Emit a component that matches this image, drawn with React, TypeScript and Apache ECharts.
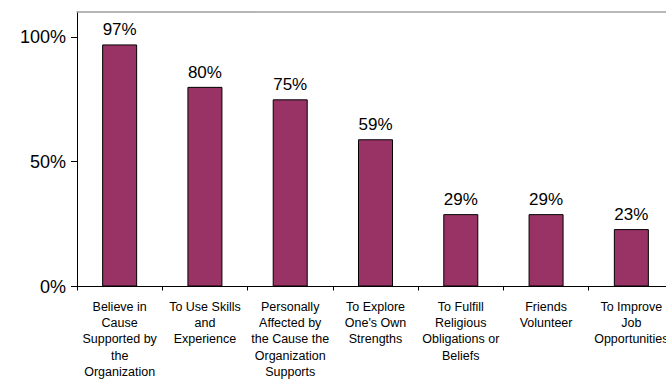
import React, { useEffect, useRef } from "react";
import * as echarts from "echarts";

const categories = [
  "Believe in\nCause\nSupported by\nthe\nOrganization",
  "To Use Skills\nand\nExperience",
  "Personally\nAffected by\nthe Cause the\nOrganization\nSupports",
  "To Explore\nOne's Own\nStrengths",
  "To Fulfill\nReligious\nObligations or\nBeliefs",
  "Friends\nVolunteer",
  "To Improve\nJob\nOpportunities",
];
const values = [97, 80, 75, 59, 29, 29, 23];
const yTicks = [0, 50, 100];

export default function App() {
  const ref = useRef<HTMLDivElement>(null);
  useEffect(() => {
    if (!ref.current) return;
    const chart = echarts.init(ref.current, null, { renderer: "svg" });
    const font = "Liberation Sans, Arial, Helvetica, sans-serif";
    chart.setOption({
      animation: false,
      backgroundColor: "#ffffff",
      grid: { left: 77, top: 12, bottom: 91, right: 0 },
      xAxis: [
        {
          type: "category",
          data: categories,
          axisLine: { lineStyle: { color: "#000", width: 1 } },
          axisTick: { show: true, length: 4, inside: false, lineStyle: { color: "#000" } },
          axisLabel: {
            interval: 0,
            color: "#000",
            fontFamily: font,
            fontSize: 12.5,
            lineHeight: 16.3,
            margin: 12,
          },
        },
        {
          type: "category",
          position: "top",
          data: categories,
          axisLine: { lineStyle: { color: "#a0a0a0", width: 1.5 } },
          axisTick: { show: false },
          axisLabel: { show: false },
        },
      ],
      yAxis: {
        type: "value",
        min: 0,
        max: 110,
        interval: 50,
        splitLine: { show: false },
        axisLine: { show: true, lineStyle: { color: "#000", width: 1 } },
        axisTick: { show: true, length: 6, lineStyle: { color: "#000" } },
        axisLabel: {
          color: "#000",
          fontFamily: font,
          fontSize: 18,
          margin: 11,
          showMaxLabel: false,
          formatter: (v: number) => (yTicks.includes(v) ? v + "%" : ""),
        },
      },
      series: [
        {
          type: "bar",
          data: values,
          barWidth: 35,
          itemStyle: { color: "#993366", borderColor: "#000", borderWidth: 1 },
          label: {
            show: true,
            position: "top",
            distance: 6,
            color: "#000",
            fontFamily: font,
            fontSize: 17,
            formatter: (p: any) => p.value + "%",
          },
        },
      ],
    });
    return () => chart.dispose();
  }, []);
  return (
    <div style={{ position: "absolute", left: 0, top: 0, width: 666, height: 380, overflow: "hidden" }}>
      <div ref={ref} style={{ width: 674, height: 380 }} />
    </div>
  );
}
